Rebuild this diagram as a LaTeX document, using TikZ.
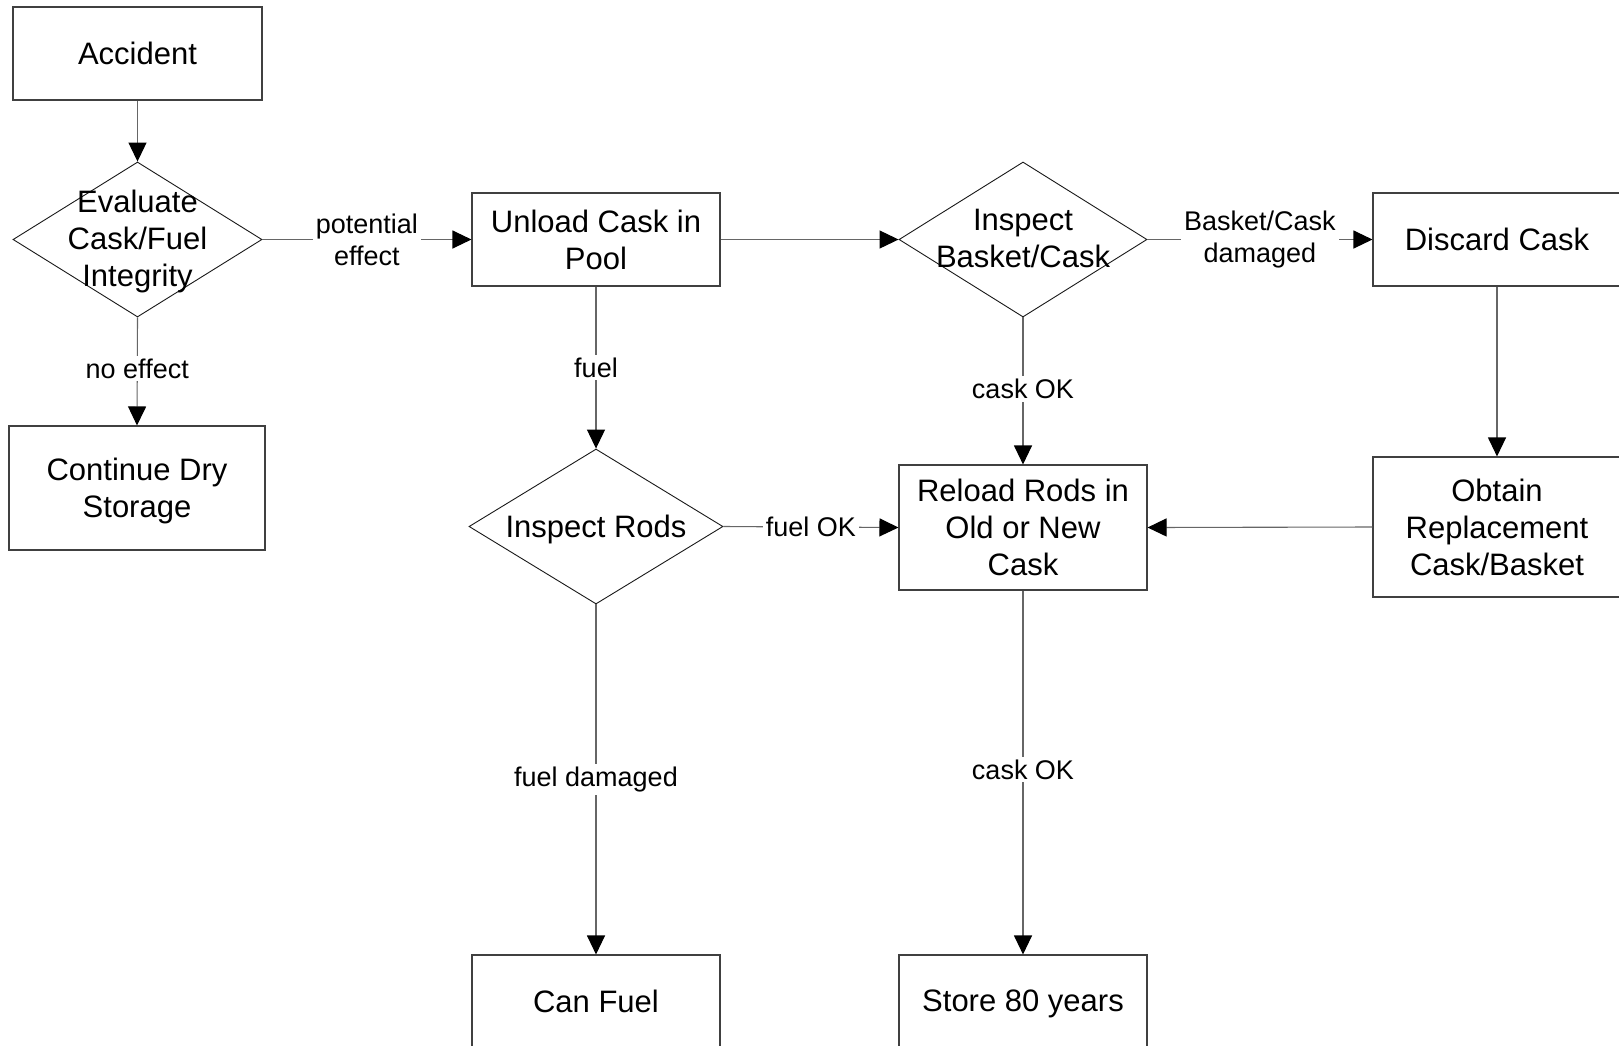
\documentclass[tikz,border=0pt]{standalone}
\usepackage{fontspec}
\setmainfont{Liberation Sans}
\usetikzlibrary{arrows.meta,shapes.geometric}
\begin{document}
\begin{tikzpicture}[x=1pt,y=-1pt,
  every node/.style={font=\fontsize{31}{37}\selectfont, align=center},
  box/.style={draw=black!75, line width=1.1pt, rectangle, inner sep=0pt, minimum width=248pt},
  dia/.style={draw=black!90, line width=0.9pt, diamond, inner sep=0pt, minimum width=#1, minimum height=155pt},
  conn/.style={draw=black!60, line width=1.1pt, -{Triangle[length=19pt,width=18pt,color=black]}},
  lbl/.style={fill=white, inner sep=3pt, font=\fontsize{27}{32}\selectfont}
]
\useasboundingbox (0,0) rectangle (1619,1045);
\clip (0,0) rectangle (1619,1045);
\fill[white] (0,0) rectangle (1619,1045);

% nodes
\node[box, minimum width=249pt, minimum height=93pt] (acc) at (137.5,53.5) {Accident};
\node[dia=249pt] (eval) at (137.5,239.5) {};
\node (evaltxt) at (137.5,241.5) {Evaluate\\Cask/Fuel\\Integrity};
\node[box, minimum width=256pt, minimum height=124pt] (cont) at (137,488) {};
\node (conttxt) at (137,491) {Continue Dry\\Storage};
\node[box, minimum height=93pt] (unload) at (596,239.5) {Unload Cask in\\Pool};
\node[dia=248pt] (basket) at (1023,239.5) {};
\node (baskettxt) at (1023,238.5) {Inspect\\Basket/Cask};
\node[box, minimum height=93pt] (discard) at (1497,239.5) {Discard Cask};
\node[dia=254pt] (rods) at (596,526.5) {};
\node (rodstxt) at (596,529.5) {Inspect Rods};
\node[box, minimum height=125pt] (reload) at (1023,527.5) {Reload Rods in\\Old or New\\Cask};
\node[box, minimum height=140pt] (obtain) at (1497,527) {Obtain\\Replacement\\Cask/Basket};
\node[box, minimum height=93pt] (can) at (596,1001.5) {Can Fuel};
\node[box, minimum height=93pt] (store) at (1023,1001.5) {};
\node (storetxt) at (1023,1003.5) {Store 80 years};

% connectors
\draw[conn] (acc.south) -- (eval.north);
\draw[conn] (eval.east) -- node[lbl] {potential\\effect} (unload.west);
\draw[conn] (eval.south) -- node[lbl, yshift=3pt] {no effect} (cont.north);
\draw[conn] (unload.east) -- (basket.west);
\draw[conn] (unload.south) -- node[lbl] {fuel} (rods.north);
\draw[conn] (basket.east) -- node[lbl] {Basket/Cask\\damaged} (discard.west);
\draw[conn] (basket.south) -- node[lbl, yshift=2pt] {cask OK} (reload.north);
\draw[conn] (discard.south) -- (obtain.north);
\draw[conn] (obtain.west) -- (reload.east);
\draw[conn] (rods.east) -- node[lbl] {fuel OK} (reload.west);
\draw[conn] (rods.south) -- node[lbl] {fuel damaged} (can.north);
\draw[conn] (reload.south) -- node[lbl, yshift=3pt] {cask OK} (store.north);
\end{tikzpicture}
\end{document}
